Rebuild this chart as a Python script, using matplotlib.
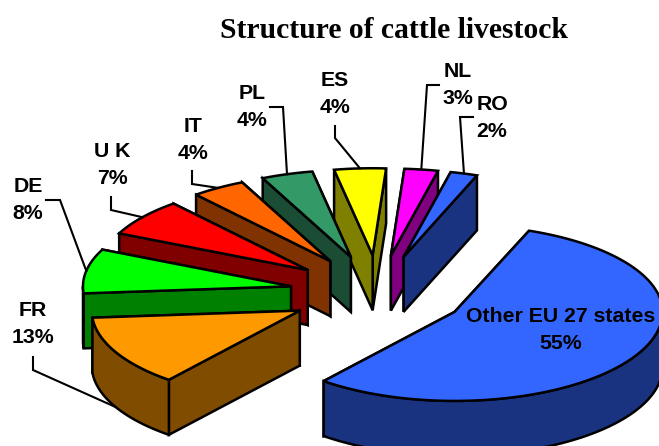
import numpy as np
import matplotlib
matplotlib.use("Agg")
import matplotlib.pyplot as plt
from matplotlib.patches import Polygon

# slices, clockwise from the big one. Shares are read from the slice sizes,
# the labels show them rounded
names = ["Other EU 27 states", "FR", "DE", "U K", "IT", "PL", "ES", "NL", "RO"]
shares = [55.0, 12.9, 8.2, 6.9, 4.2, 4.0, 4.0, 2.6, 2.1]
top_colors = ["#3366FF", "#FF9900", "#00FF00", "#FF0000", "#FF6600",
              "#339966", "#FFFF00", "#FF00FF", "#3366FF"]

# picture layout, in pixels
W, H = 659, 446
cx, cy = 378, 293
rx, ry, ry_back = 208, 89, 87
depth = 55
explode = 0.425
start_angle = 69
draw_order = [6, 7, 8, 5, 4, 3, 2, 1, 0]

label_xy = [(561, 330), (33, 324), (28, 200), (112, 165), (193, 140),
            (252, 107), (335, 94), (458, 85), (492, 118)]
# first points of the leaders, the last point comes from the slice
leader_xy = [None,
             [(33, 357), (33, 370)],
             [(46, 200), (60, 200)],
             [(111, 197), (111, 210)],
             [(192, 171), (192, 184)],
             [(270, 107), (283, 107)],
             [(335, 126), (335, 138)],
             [(439, 85), (427, 85)],
             [(473, 117), (460, 117)]]

LINE = dict(edgecolor="black", linewidth=1.8, joinstyle="miter")


def ell(t, tip):
    # point on the rim of an exploded slice, t in degrees, y grows downwards
    r = np.radians(t)
    s = np.sin(r)
    return np.column_stack([tip[0] + rx * np.cos(r),
                            tip[1] - np.where(s > 0, ry_back, ry) * s])


fig = plt.figure(figsize=(W / 100, H / 100), dpi=100)
ax = fig.add_axes([0, 0, 1, 1])
ax.set_xlim(0, W)
ax.set_ylim(H, 0)
ax.axis("off")

# angle span of each slice
spans = []
a = start_angle
for s in shares:
    spans.append((a, a - s * 3.6))
    a = a - s * 3.6

for i in draw_order:
    a0, a1 = spans[i]
    mid = np.radians((a0 + a1) / 2)
    tip = np.array([cx + explode * rx * np.cos(mid), cy - explode * ry * np.sin(mid)])
    color = top_colors[i]
    dark = tuple(c / 2 for c in matplotlib.colors.to_rgb(color))
    down = np.array([0, depth])

    # radial walls, the hidden one goes first
    first, second = (a1, a0) if np.cos(mid) < 0 else (a0, a1)
    for t in (first, second):
        p = ell(np.array([t]), tip)[0]
        ax.add_patch(Polygon([tip, p, p + down, tip + down], facecolor=dark, **LINE))

    # outer wall, only the part that faces the viewer
    lo, hi = max(a1, -180), min(a0, 0)
    if hi > lo:
        rim = ell(np.linspace(hi, lo, 80), tip)
        ax.add_patch(Polygon(np.vstack([rim, rim[::-1] + down]), facecolor=dark, **LINE))

    rim = ell(np.linspace(a0, a1, 120), tip)
    ax.add_patch(Polygon(np.vstack([tip, rim]), facecolor=color, **LINE))

    # leader
    if leader_xy[i] is not None:
        end = ell(np.array([np.degrees(mid)]), tip)[0]
        if np.sin(mid) < 0:
            end = end + down
        pts = np.array(leader_xy[i] + [tuple(end)])
        ax.plot(pts[:, 0], pts[:, 1], color="black", lw=1.5, solid_joinstyle="miter",
                zorder=5)

for i in range(len(names)):
    ax.text(label_xy[i][0], label_xy[i][1], names[i] + "\n" + str(round(shares[i])) + "%",
            ha="center", va="center", ma="center", family="Liberation Sans",
            fontweight="bold", fontsize=15.3, linespacing=1.53, color="black", zorder=6)

ax.text(394.5, 31, "Structure of cattle livestock", ha="center", va="center",
        family="Liberation Serif", fontweight="bold", fontsize=21.3, color="black")

fig.savefig("out.png", dpi=100)
